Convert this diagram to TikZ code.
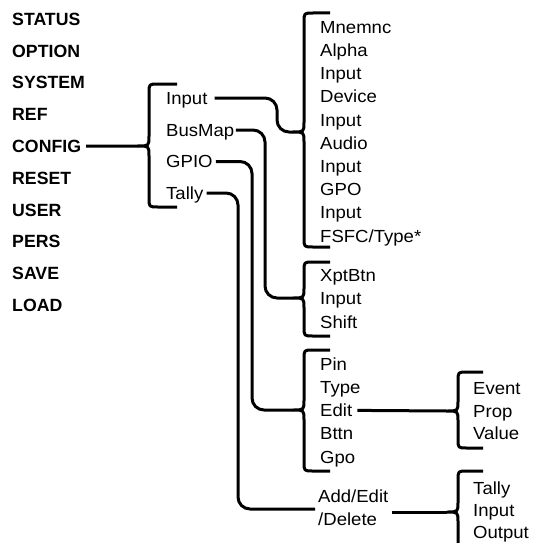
\documentclass[tikz,border=0pt]{standalone}
\usepackage{fontspec}
\setmainfont{Liberation Sans}[FakeStretch=1.06, BoldFeatures={FakeStretch=1.0}]
\tikzset{
  conn/.style={line width=3pt, line join=round},
  menuitem/.style={anchor=west, inner sep=0pt, text height=12.7pt, text depth=0pt,
    font=\fontsize{17.7}{20}\selectfont\bfseries},
  subitem/.style={anchor=west, inner sep=0pt, text height=12.5pt, text depth=0pt,
    font=\fontsize{17.5}{20}\selectfont},
  twoline/.style={anchor=west, inner sep=0pt, align=left,
    font=\fontsize{17.5}{23}\selectfont},
  elbow/.style={conn, rounded corners=12pt}
}
% curly brace: x of the spine, y of top, tip and bottom, x where the end stubs stop
\newcommand\curlybrace[5]{%
  \draw[conn] (#5,#2) -- ({#1+9},#2) .. controls (#1,#2) .. (#1,{#2+9})
    -- (#1,{#3-10}) .. controls (#1,#3) .. ({#1-11},#3)
    .. controls (#1,#3) .. (#1,{#3+10})
    -- (#1,{#4-9}) .. controls (#1,#4) .. ({#1+9},#4) -- (#5,#4);}
\begin{document}
\begin{tikzpicture}[x=1pt, y=-1pt]
\useasboundingbox (0,0) rectangle (537,543);
\clip (0,0) rectangle (537,543);

% main menu
\foreach \name/\lbl [count=\i from 0] in {st/STATUS, op/OPTION, sy/SYSTEM, rf/REF, cf/CONFIG,
    rs/RESET, us/USER, ps/PERS, sv/SAVE, ld/LOAD}
  \node[menuitem] (\name) at (12, 19+31.8*\i) {\lbl};

% CONFIG submenu
\curlybrace{149}{84}{146}{207}{177}
\coordinate (cfTip) at (138,146);
\draw[conn] ([xshift=5pt]cf.east) -- (cfTip);
\node[subitem] (cin) at (166,98) {Input};
\node[subitem] (cbm) at (166,130) {BusMap};
\node[subitem] (cgp) at (166,161.5) {GPIO};
\node[subitem] (cta) at (166,193) {Tally};

% Input submenu
\curlybrace{304}{13}{132}{247}{330}
\coordinate (inTip) at (293,132);
\foreach \lbl [count=\i from 0] in {Mnemnc, Alpha, Input, Device, Input, Audio, Input, GPO, Input, FSFC/Type*}
  \node[subitem] (in\i) at (320, 27+23.2*\i) {\lbl};
\draw[elbow] ([xshift=7pt]cin.east) -- (277,98) -- (277,132) -- (inTip);

% BusMap submenu
\curlybrace{304}{262}{298}{336}{330}
\coordinate (bmTip) at (293,298);
\node[subitem] (bm0) at (320,275) {XptBtn};
\node[subitem] (bm1) at (320,298.5) {Input};
\node[subitem] (bm2) at (320,322) {Shift};
\draw[elbow] ([xshift=1.5pt]cbm.east) -- (265,130) -- (265,298) -- (bmTip);

% GPIO submenu
\curlybrace{304}{350}{410}{471}{330}
\coordinate (gpTip) at (293,410);
\foreach \lbl [count=\i from 0] in {Pin, Type, Edit, Bttn, Gpo}
  \node[subitem] (gp\i) at (320, 364+23.2*\i) {\lbl};
\draw[elbow] ([xshift=3pt]cgp.east) -- (252,161.5) -- (252,410) -- (gpTip);

% Edit submenu
\curlybrace{458}{372}{411}{448}{483}
\coordinate (edTip) at (447,411);
\node[subitem] (ev) at (473,388) {Event};
\node[subitem] (pr) at (473,411) {Prop};
\node[subitem] (va) at (473,433.5) {Value};
\draw[conn] ([xshift=5pt]gp2.east) -- (edTip);

% Tally submenu
\node[twoline] (ad) at (318,508) {Add/Edit\\/Delete};
\coordinate (taEnd) at (315,509);
\draw[elbow] ([xshift=3pt]cta.east) -- (238,193) -- (238,509) -- (taEnd);

\curlybrace{458}{471}{512}{553}{483}
\coordinate (adTip) at (447,512);
\node[subitem] (tl0) at (473,488) {Tally};
\node[subitem] (tl1) at (473,510) {Input};
\node[subitem] (tl2) at (473,532) {Output};
\draw[conn] ([xshift=3pt, yshift=-4pt]ad.east) -- (adTip);
\end{tikzpicture}
\end{document}
